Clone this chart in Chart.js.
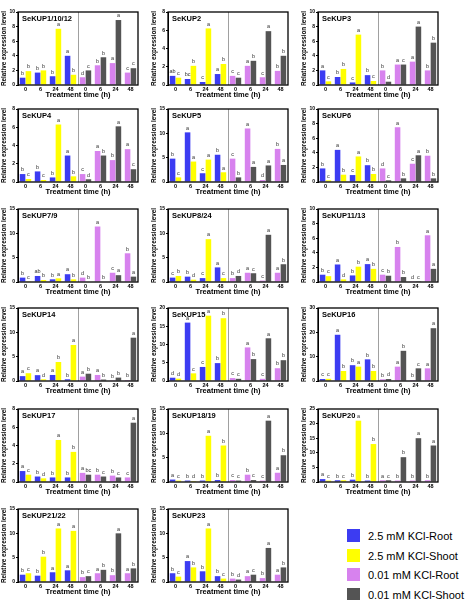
<!DOCTYPE html>
<html>
<head>
<meta charset="utf-8">
<script src="https://cdn.jsdelivr.net/npm/chart.js@4.4.1/dist/chart.umd.min.js"></script>
<style>
  body { margin: 0; background: #fff; width: 466px; height: 600px; position: relative; overflow: hidden; font-family: "Liberation Sans", Arial, sans-serif; }
  canvas { position: absolute; }
  .leg { position: absolute; left: 347px; height: 14px; line-height: 14px; font-size: 11px; color: #000; white-space: nowrap; }
  .leg span { display: inline-block; width: 13px; height: 13px; vertical-align: top; margin-right: 8px; }
</style>
</head>
<body>
<script>
// valores (4 tempos por série)
const tempos = ['0', '6', '24', '48', '0', '6', '24', '48'];
const genes = ['SeKUP1/10/12', 'SeKUP2', 'SeKUP3', 'SeKUP4', 'SeKUP5', 'SeKUP6',
  'SeKUP7/9', 'SeKUP8/24', 'SeKUP11/13', 'SeKUP14', 'SeKUP15', 'SeKUP16',
  'SeKUP17', 'SeKUP18/19', 'SeKUP20', 'SeKUP21/22', 'SeKUP23'];
const eixoMax = [10, 8, 10, 8, 15, 10, 15, 15, 10, 15, 20, 30, 8, 15, 25, 15, 15];
const eixoPasso = [2, 2, 2, 2, 5, 2, 5, 5, 2, 5, 5, 10, 2, 5, 5, 5, 5];

const raiz25 = [
  [1.0, 1.7, 1.2, 4.0], [1.0, 0.66, 0.33, 1.2], [2.0, 1.1, 0.35, 1.35], [0.87, 1.16, 0.5, 2.9],
  [4.8, 10.2, 1.8, 5.6], [1.86, 4.4, 0.95, 2.3], [0.9, 1.24, 0.55, 1.6], [0.9, 1.1, 0.8, 3.0],
  [1.0, 2.4, 0.9, 2.45], [1.0, 1.2, 1.24, 0.35], [0.9, 16.0, 3.85, 4.9], [0.8, 19.0, 6.5, 8.9],
  [1.2, 0.6, 0.5, 0.5], [0.5, 0.3, 0.3, 0.4], [1.0, 0.6, 0.8, 0.5], [1.5, 1.3, 2.0, 2.4], [1.8, 4.3, 2.2, 1.2]
];
const parte25 = [
  [1.9, 2.0, 7.7, 1.4], [0.8, 2.1, 6.2, 2.3], [0.5, 2.2, 6.9, 0.55], [0.33, 0.22, 6.3, 0.62],
  [0.95, 4.2, 4.6, 2.0], [0.23, 1.0, 3.5, 1.1], [0.15, 0.4, 0.75, 0.55], [1.24, 0.48, 8.8, 0.8],
  [0.8, 0.36, 2.1, 1.8], [1.6, 0.35, 3.9, 7.4], [0.64, 2.1, 17.9, 17.2], [0.9, 4.1, 5.9, 4.1],
  [0.8, 0.4, 4.6, 3.3], [0.3, 0.2, 9.5, 7.5], [0.5, 0.6, 21, 13], [1.8, 5.2, 11, 10.5], [1.1, 3.0, 11, 0.7]
];
const raiz001 = [
  [1.06, 2.7, 3.0, 1.7], [1.0, 2.1, 0.85, 1.55], [2.0, 2.8, 3.2, 2.0], [0.87, 3.4, 2.4, 3.6],
  [4.8, 11.0, 0.4, 6.8], [1.86, 7.5, 2.5, 3.6], [0.9, 11.4, 1.9, 5.9], [0.8, 1.9, 0.3, 1.9],
  [1.0, 4.8, 0.03, 6.4], [0.9, 1.24, 0.15, 0.2], [0.8, 9.2, 0.6, 3.5], [0.7, 5.9, 0.4, 5.2],
  [1.0, 0.8, 0.7, 0.5], [0.4, 1.5, 0.3, 1.9], [0.6, 0.5, 0.5, 0.6], [1.0, 1.8, 1.4, 1.8], [0.7, 1.2, 0.8, 1.5]
];
const parte001 = [
  [2.0, 3.8, 8.9, 2.3], [0.8, 2.65, 5.9, 3.2], [0.45, 2.8, 8.0, 5.8], [0.3, 2.9, 6.1, 1.4],
  [0.95, 3.1, 3.4, 3.5], [0.23, 0.5, 3.66, 0.5], [0.1, 0.1, 1.4, 1.1], [1.24, 1.8, 9.7, 3.65],
  [0.86, 0.68, 0.03, 1.8], [1.5, 0.3, 0.7, 8.9], [0.6, 6.0, 11.7, 5.7], [0.8, 12.4, 5.2, 21.7],
  [0.8, 0.6, 0.5, 6.5], [0.3, 0.4, 12.6, 5.5], [0.6, 8.5, 15, 12.5], [1.2, 2.5, 10, 2.8], [0.5, 1.5, 7.0, 3.0]
];

// letras de significância
const letrasRaiz25 = ['b b b a', 'ab bc c a', 'a b c b', 'b b b a', 'b a c b', 'b a c b', 'b ab b a', 'c b c a',
  'b a b a', 'a a a b', 'd a c b', 'c a b b', 'a b b b', 'a b b b', 'a b b b', 'b b a a', 'b a b b'];
const letrasParte25 = ['b b a b', 'c b a b', 'c b a c', 'c c a b', 'c a a a', 'c b a b', 'c b a b', 'b d a c',
  'c d b b', 'c d b a', 'd c a b', 'c b a b', 'c d a b', 'c d a b', 'c c a b', 'c b a a', 'c b a c'];
const letrasRaiz001 = ['d b a c', 'c a c b', 'b a a b', 'c a b a', 'c a d b', 'd a c b', 'd a c b', 'b a c a',
  'c b d a', 'a a b b', 'c a c b', 'b a b a', 'a b b c', 'c b c a', 'a b b b', 'b a b a', 'b a b a'];
const letrasParte001 = ['c b a c', 'c b a b', 'd c a b', 'd b a c', 'b a a a', 'c b a b', 'b b a a', 'd c a b',
  'b b c a', 'b b b a', 'c b a b', 'd b c a', 'bc c c a', 'c c a b', 'c b a a', 'c b a b', 'd c a b'];

const cores = ['#3c3cf2', '#ffff00', '#d782ee', '#545454'];
const legendas = ['2.5 mM KCl-Root', '2.5 mM KCl-Shoot', '0.01 mM KCl-Root', '0.01 mM KCl-Shoot'];

const colunas = [0, 150, 300];
const linhas = [0, 97, 197, 296, 397, 497];

Chart.defaults.font.family = '"Liberation Sans", Arial, sans-serif';
Chart.defaults.color = '#000';

const vazio = [null, null, null, null];

const moldura = {
  id: 'moldura',
  afterDraw(chart, args, opts) {
    const { ctx, chartArea: a } = chart;
    ctx.save();
    ctx.strokeStyle = '#a0a0a0';
    ctx.lineWidth = 1;
    const meio = Math.round((a.left + a.right) / 2) + 0.5;
    ctx.beginPath();
    ctx.moveTo(meio, a.top);
    ctx.lineTo(meio, a.bottom);
    ctx.stroke();
    ctx.strokeStyle = '#000';
    ctx.lineWidth = 1.3;
    ctx.strokeRect(a.left, a.top, a.right - a.left, a.bottom - a.top);

    // letras acima das barras
    ctx.fillStyle = '#333';
    ctx.font = '5.5px "Liberation Sans", Arial, sans-serif';
    ctx.textAlign = 'center';
    ctx.textBaseline = 'bottom';
    chart.data.datasets.forEach((ds, i) => {
      const meta = chart.getDatasetMeta(i);
      meta.data.forEach((barra, j) => {
        if (ds.data[j] == null) return;
        ctx.fillText(opts.letras[i][j % 4], barra.x, barra.y - 1.5);
      });
    });

    // nome do gene
    ctx.fillStyle = '#000';
    ctx.font = 'bold 7.5px "Liberation Sans", Arial, sans-serif';
    ctx.textAlign = 'left';
    ctx.textBaseline = 'top';
    ctx.fillText(opts.nome, a.left + 4, a.top + 3);
    ctx.restore();
  }
};

genes.forEach((nome, g) => {
  const cv = document.createElement('canvas');
  cv.width = 150;
  cv.height = 99;
  cv.style.left = colunas[g % 3] + 'px';
  cv.style.top = linhas[Math.floor(g / 3)] + 'px';
  document.body.appendChild(cv);

  const series = [
    raiz25[g].concat(vazio),
    parte25[g].concat(vazio),
    vazio.concat(raiz001[g]),
    vazio.concat(parte001[g])
  ];
  const letras = [letrasRaiz25[g], letrasParte25[g], letrasRaiz001[g], letrasParte001[g]].map(s => s.split(' '));

  new Chart(cv.getContext('2d'), {
    type: 'bar',
    data: {
      labels: tempos,
      datasets: series.map((d, i) => ({
        label: legendas[i],
        data: d,
        backgroundColor: cores[i],
        skipNull: true,
        barPercentage: 0.95,
        categoryPercentage: 0.78
      }))
    },
    options: {
      responsive: false,
      animation: false,
      devicePixelRatio: 1,
      layout: { padding: { top: 12, right: 12, left: 0, bottom: 0 } },
      plugins: {
        legend: { display: false },
        tooltip: { enabled: false },
        moldura: { nome, letras }
      },
      scales: {
        x: {
          grid: { display: false, drawTicks: false, tickLength: 0 },
          border: { display: false },
          ticks: { font: { size: 5.5, weight: 'bold' }, padding: 1, maxRotation: 0, autoSkip: false },
          title: { display: true, text: 'Treatment time (h)', font: { size: 7.5, weight: 'bold' }, padding: 0 },
          afterFit(s) { s.height = 14; }
        },
        y: {
          min: 0,
          max: eixoMax[g],
          grid: { drawOnChartArea: false, tickLength: 2, color: '#000' },
          border: { color: '#000' },
          ticks: { stepSize: eixoPasso[g], font: { size: 5, weight: 'bold' }, padding: 1 },
          title: { display: true, text: 'Relative expression level', font: { size: 6.3, weight: 'bold' }, padding: 0 },
          afterFit(s) { s.width = 18; }
        }
      }
    },
    plugins: [moldura]
  });
});

// legenda
legendas.forEach((txt, i) => {
  const d = document.createElement('div');
  d.className = 'leg';
  d.style.top = (529 + i * 19.5) + 'px';
  d.innerHTML = '<span style="background:' + cores[i] + '"></span>' + txt;
  document.body.appendChild(d);
});
</script>
</body>
</html>
